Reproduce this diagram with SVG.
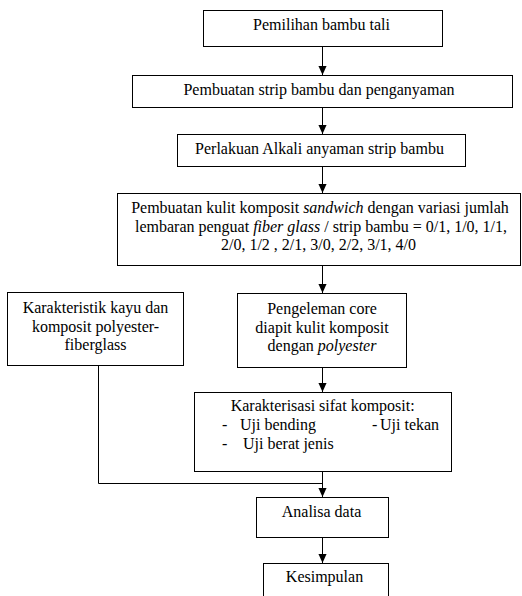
<svg xmlns="http://www.w3.org/2000/svg" width="522" height="596" viewBox="0 0 522 596">
<defs>
<style>
.box{fill:#fff;stroke:#000;stroke-width:1}
.t{font-size:16px;fill:#000}
.m{text-anchor:middle}
.c{fill:none;stroke:#000;stroke-width:1}
</style>
<marker id="ah" viewBox="0 0 10 10" refX="10" refY="5" markerWidth="9" markerHeight="9" markerUnits="userSpaceOnUse" orient="auto">
<path d="M0,0.5 L10,5 L0,9.5 z" fill="#000"/>
</marker>
</defs>
<rect width="522" height="596" fill="#fff"/>
<g id="connectors">
<line class="c" x1="322.5" y1="46.5" x2="322.5" y2="75" marker-end="url(#ah)"/>
<line class="c" x1="322.5" y1="107.5" x2="322.5" y2="134" marker-end="url(#ah)"/>
<line class="c" x1="322.5" y1="166.5" x2="322.5" y2="193" marker-end="url(#ah)"/>
<line class="c" x1="322.5" y1="265.5" x2="322.5" y2="293" marker-end="url(#ah)"/>
<line class="c" x1="322.5" y1="367.5" x2="322.5" y2="392" marker-end="url(#ah)"/>
<line class="c" x1="322.5" y1="471.5" x2="322.5" y2="497" marker-end="url(#ah)"/>
<polyline class="c" points="98.5,365.5 98.5,483.5 322.5,483.5"/>
<line class="c" x1="322.5" y1="537.5" x2="322.5" y2="563" marker-end="url(#ah)"/>
</g>
<g font-family="Liberation Serif, serif">
<g id="n1">
<rect class="box" x="203.5" y="10.5" width="239" height="36"/>
<text class="t m" x="321.5" y="30">Pemilihan bambu tali</text>
</g>
<g id="n2">
<rect class="box" x="132.5" y="75.5" width="380" height="32"/>
<text class="t m" x="319" y="95">Pembuatan strip bambu dan penganyaman</text>
</g>
<g id="n3">
<rect class="box" x="177.5" y="134.5" width="288" height="32"/>
<text class="t m" x="319.5" y="154">Perlakuan Alkali anyaman strip bambu</text>
</g>
<g id="n4">
<rect class="box" x="117.5" y="193.5" width="403" height="72"/>
<text class="t m" x="320" y="213">Pembuatan kulit komposit <tspan font-style="italic">sandwich</tspan> dengan variasi jumlah</text>
<text class="t m" x="321" y="231.5">lembaran penguat <tspan font-style="italic">fiber glass</tspan> / strip bambu = 0/1, 1/0, 1/1,</text>
<text class="t m" x="318.5" y="250">2/0, 1/2 , 2/1, 3/0, 2/2, 3/1, 4/0</text>
</g>
<g id="n5">
<rect class="box" x="7.5" y="292.5" width="176" height="73"/>
<text class="t m" x="95.5" y="313">Karakteristik kayu dan</text>
<text class="t m" x="95.5" y="331.5">komposit polyester-</text>
<text class="t m" x="95.5" y="350">fiberglass</text>
</g>
<g id="n6">
<rect class="box" x="237.5" y="293.5" width="169" height="74"/>
<text class="t m" x="322" y="314">Pengeleman core</text>
<text class="t m" x="322" y="332.5">diapit kulit komposit</text>
<text class="t m" x="322" y="351">dengan <tspan font-style="italic">polyester</tspan></text>
</g>
<g id="n7">
<rect class="box" x="194.5" y="392.5" width="257" height="79"/>
<text class="t" x="230.7" y="411">Karakterisasi sifat komposit:</text>
<text class="t" x="222" y="430">-</text>
<text class="t" x="240" y="430">Uji bending</text>
<text class="t" x="372" y="430">-</text>
<text class="t" x="380" y="430">Uji tekan</text>
<text class="t" x="222" y="449">-</text>
<text class="t" x="243" y="449">Uji berat jenis</text>
</g>
<g id="n8">
<rect class="box" x="256.5" y="497.5" width="132" height="40"/>
<text class="t m" x="321.5" y="517">Analisa data</text>
</g>
<g id="n9">
<rect class="box" x="263.5" y="563.5" width="125" height="50"/>
<text class="t m" x="324.5" y="582">Kesimpulan</text>
</g>
</g>
</svg>
